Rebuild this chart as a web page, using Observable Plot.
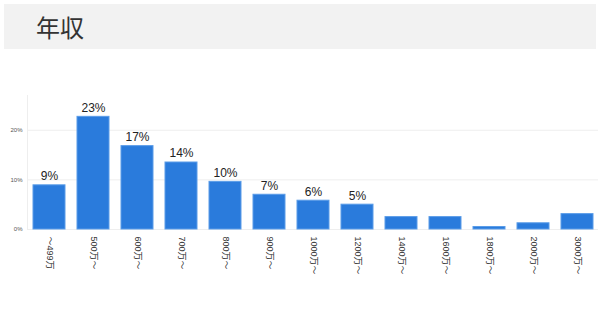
<!DOCTYPE html>
<html>
<head>
<meta charset="utf-8">
<script src="https://cdn.jsdelivr.net/npm/d3@7"></script>
<script src="https://cdn.jsdelivr.net/npm/@observablehq/plot@0.6"></script>
<style>
  html, body { margin: 0; padding: 0; background: #fff; width: 600px; height: 327px; overflow: hidden; }
  body { font-family: "Liberation Sans", "Noto Sans CJK JP", sans-serif; }
  .title { margin: 4px 4px 0 4px; height: 45px; background: #f2f2f2; box-sizing: border-box;
           padding-left: 32px; font-size: 24px; line-height: 45px; color: #333;
           font-family: "Noto Sans CJK JP", sans-serif; }
  #chart { margin-top: 6px; }
</style>
</head>
<body>
<div class="title">年収</div>
<div id="chart"></div>
<script>
const categories = ["～499万", "500万～", "600万～", "700万～", "800万～", "900万～", "1000万～", "1200万～", "1400万～", "1600万～", "1800万～", "2000万～", "3000万～"];
const values = [8.9, 22.7, 16.8, 13.5, 9.6, 7.0, 5.8, 5.0, 2.5, 2.5, 0.5, 1.25, 3.1];
const labels = ["9%", "23%", "17%", "14%", "10%", "7%", "6%", "5%", "", "", "", "", ""];
const yTicks = [0, 10, 20];

const data = categories.map((c, i) => ({cat: c, v: values[i], label: labels[i]}));

const chart = Plot.plot({
  width: 600,
  height: 272,
  marginTop: 40,
  marginBottom: 98,
  marginLeft: 27,
  marginRight: 2,
  style: {fontFamily: '"Liberation Sans", "Noto Sans CJK JP", sans-serif', background: "transparent"},
  x: {domain: categories, paddingInner: 0.275, paddingOuter: 0.11, label: null},
  y: {domain: [0, 27], label: null},
  marks: [
    Plot.ruleY(yTicks, {stroke: "#eee", strokeWidth: 1}),
    Plot.frame({anchor: "left", stroke: "#eee"}),
    Plot.axisY({ticks: yTicks, tickFormat: d => d + "%", tickSize: 0, tickPadding: 5, fontSize: 6, fill: "#555", label: null}),
    Plot.axisX({tickSize: 0, tickPadding: 7, tickRotate: 90, fontSize: 9, fill: "#333", label: null}),
    Plot.barY(data, {x: "cat", y: "v", fill: "#2a7bdc", stroke: "#5a9ce8", strokeWidth: 1}),
    Plot.text(data, {x: "cat", y: "v", text: "label", dy: -9, fontSize: 12, fill: "#222"})
  ]
});
document.getElementById("chart").appendChild(chart);
</script>
</body>
</html>
